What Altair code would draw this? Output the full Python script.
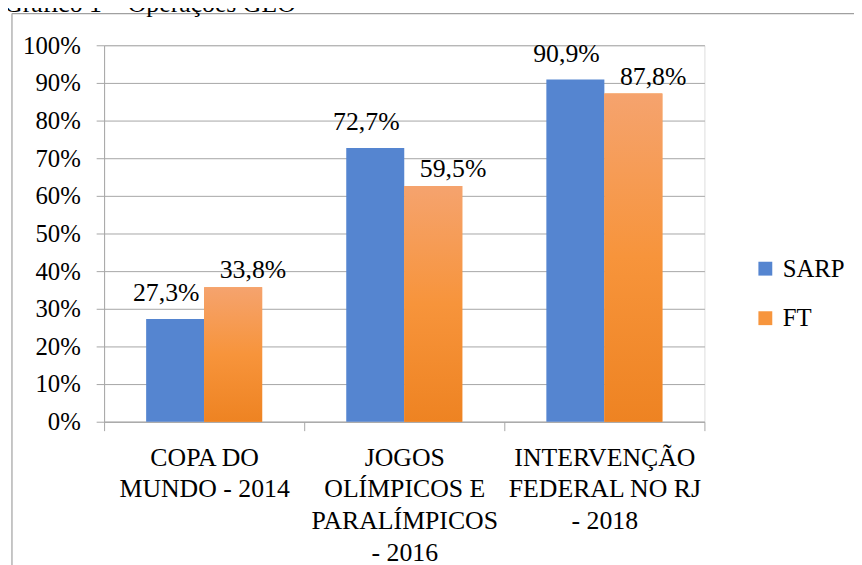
import altair as alt
import pandas as pd

# ---- data ----
categories = [
    "COPA DO|MUNDO - 2014",
    "JOGOS|OLÍMPICOS E|PARALÍMPICOS|- 2016",
    "INTERVENÇÃO|FEDERAL NO RJ|- 2018",
]
series = ["SARP", "FT"]
sarp_values = [27.3, 72.7, 90.9]          # bar heights (%)
ft_values = [35.7, 62.6, 87.2]            # bar heights as drawn (%)
sarp_labels = [27.3, 72.7, 90.9]          # printed data labels (%)
ft_labels = [33.8, 59.5, 87.8]            # printed data labels (%)
y_ticks = [0, 0.1, 0.2, 0.3, 0.4, 0.5, 0.6, 0.7, 0.8, 0.9, 1.0]
title_text = "Gráfico 1 – Operações GLO"

def pct(v):
    return f"{v:.1f}".replace(".", ",") + "%"

rows = []
for i, c in enumerate(categories):
    rows.append({"cat": c, "series": "SARP", "value": sarp_values[i] / 100, "label": pct(sarp_labels[i])})
    rows.append({"cat": c, "series": "FT", "value": ft_values[i] / 100, "label": pct(ft_labels[i])})
df = pd.DataFrame(rows)

FONT = "Liberation Serif"
GRID = "#A6A6A6"
BLUE = "#5585D0"
ORANGE = "#F7953D"

x_enc = alt.X(
    "cat:N",
    sort=categories,
    scale=alt.Scale(paddingInner=0, paddingOuter=0),
    axis=alt.Axis(
        title=None,
        labelExpr="split(datum.label, '|')",
        labelAngle=0,
        labelFontSize=26,
        labelLineHeight=32,
        labelBaseline="top",
        labelPadding=14,
        labelLimit=600,
        labelColor="black",
        labelFont=FONT,
        labelOverlap=False,
        tickBand="extent",
        tickSize=9,
        tickColor=GRID,
        domainColor=GRID,
        grid=False,
    ),
)
xoff_enc = alt.XOffset(
    "series:N",
    sort=series,
    scale=alt.Scale(domain=series, paddingInner=0, paddingOuter=0.725),
)
y_enc = alt.Y(
    "value:Q",
    scale=alt.Scale(domain=[0, 1], nice=False),
    axis=alt.Axis(
        title=None,
        values=y_ticks,
        tickCount=30,
        format=".0%",
        labelFontSize=25,
        labelFont=FONT,
        labelColor="black",
        labelPadding=16,
        labelOverlap=False,
        labelFlush=False,
        tickSize=8,
        tickColor=GRID,
        domainColor=GRID,
        gridColor=GRID,
        gridWidth=1,
    ),
)

base = alt.Chart(df)

bars = base.mark_bar().encode(
    x=x_enc,
    xOffset=xoff_enc,
    y=y_enc,
    color=alt.Color(
        "series:N",
        sort=series,
        scale=alt.Scale(domain=series, range=[BLUE, ORANGE]),
        legend=alt.Legend(
            title=None,
            orient="none",
            legendX=655,
            legendY=213,
            symbolType="square",
            symbolSize=196,
            symbolStrokeWidth=0,
            labelFontSize=25,
            labelFont=FONT,
            labelColor="black",
            labelOffset=5,
            rowPadding=24,
            padding=0,
        ),
    ),
)

orange_grad = alt.Gradient(
    gradient="linear",
    x1=0, x2=0, y1=0, y2=1,
    stops=[
        alt.GradientStop(color="#F5A36E", offset=0),
        alt.GradientStop(color="#F7943B", offset=0.5),
        alt.GradientStop(color="#EE8322", offset=1),
    ],
)

ft_bars = base.transform_filter(alt.datum.series == "FT").mark_bar(color=orange_grad).encode(
    x=x_enc, xOffset=xoff_enc, y=y_enc,
)

sarp_text = base.transform_filter(alt.datum.series == "SARP").mark_text(
    font=FONT, fontSize=26, color="black", baseline="alphabetic", dx=-9, dy=-18
).encode(x=x_enc, xOffset=xoff_enc, y=y_enc, text="label:N")

ft_text = base.transform_filter(alt.datum.series == "FT").mark_text(
    font=FONT, fontSize=26, color="black", baseline="alphabetic", dx=20, dy=-9
).encode(x=x_enc, xOffset=xoff_enc, y=y_enc, text="label:N")

one = pd.DataFrame({"t": [title_text]})
title = alt.Chart(one).mark_text(
    font=FONT, fontSize=26, color="black", align="left", baseline="alphabetic"
).encode(text="t:N", x=alt.value(-101), y=alt.value(-33.5))

border_top = alt.Chart(one).mark_rule(color="#A0A0A0", strokeWidth=1.2).encode(
    x=alt.value(-93), x2=alt.value(760), y=alt.value(-32)
)
border_left = alt.Chart(one).mark_rule(color="#A0A0A0", strokeWidth=1.2).encode(
    x=alt.value(-93), y=alt.value(-32), y2=alt.value(530)
)

chart = alt.layer(
    bars, ft_bars, sarp_text, ft_text, border_top, border_left, title
).properties(
    width=606,
    height=380,
    padding={"left": 97, "top": 35, "right": 151, "bottom": 142},
    autosize=alt.AutoSizeParams(type="none"),
).configure_view(strokeWidth=0).configure(font=FONT)

chart.save("out.html", embed_options={"renderer": "svg", "actions": False})
